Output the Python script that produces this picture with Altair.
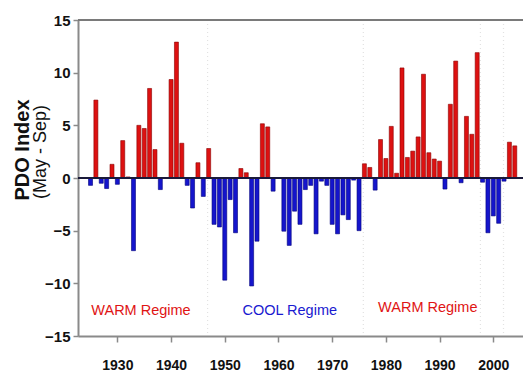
import altair as alt
import pandas as pd

years = list(range(1925, 2005))
pdo = [
    -0.7, 7.4, -0.5, -1.0, 1.3, -0.6, 3.55, 0.1, -6.9, 5.0,      # 1925-1934
    4.7, 8.5, 2.7, -1.1, 0.0, 9.35, 12.9, 3.3, -0.7, -2.85,      # 1935-1944
    1.45, -1.75, 2.8, -4.4, -4.65, -9.7, -2.05, -5.2, 0.9, 0.5,  # 1945-1954
    -10.25, -6.0, 5.15, 4.85, -1.25, 0.0, -5.05, -6.4, -3.15, -4.4,  # 1955-1964
    -1.1, -0.7, -5.3, -0.3, -0.7, -4.4, -5.3, -3.5, -3.95, -0.2,  # 1965-1974
    -5.0, 1.35, 1.0, -1.15, 3.65, 1.85, 4.9, 0.45, 10.45, 1.95,  # 1975-1984
    2.55, 3.9, 9.85, 2.4, 1.8, 1.6, -1.05, 7.0, 11.1, -0.45,     # 1985-1994
    5.85, 4.15, 11.9, -0.4, -5.2, -3.6, -4.3, -0.3, 3.4, 3.05,   # 1995-2004
]

regime_labels = ["WARM Regime", "COOL Regime", "WARM Regime "]
regime_year = [1934.4, 1962.1, 1987.8]
regime_value = [-12.6, -12.6, -12.3]
regime_colors = ["#e01414", "#1a1ad0", "#e01414"]

shift_years = [1946.8, 1975.8, 1997.6, 2001.9]

x_ticks = [1930, 1940, 1950, 1960, 1970, 1980, 1990, 2000]
y_ticks = [-15, -10, -5, 0, 5, 10, 15]

FONT = "Liberation Sans"
W, H = 445, 316

df = pd.DataFrame({"year": years, "pdo": pdo})
reg = pd.DataFrame({"label": regime_labels, "year": regime_year, "pdo": regime_value})
shifts = pd.DataFrame({"year": shift_years})

xscale = alt.Scale(domain=[1923.6, 2004.6], nice=False, zero=False)
yscale = alt.Scale(domain=[-15, 15], nice=False)

xaxis = alt.Axis(values=x_ticks, format="d", title=None, grid=False,
                 domainColor="#8a8a8a", domainWidth=2, tickColor="#8a8a8a",
                 tickSize=6, tickWidth=1.5, labelFont=FONT, labelFontSize=14,
                 labelFontWeight="bold", labelColor="#111", labelPadding=16)
yaxis = alt.Axis(values=y_ticks, title=None, grid=False,
                 domainColor="#8a8a8a", domainWidth=2, tickColor="#8a8a8a",
                 tickSize=5, tickWidth=1.5, labelFont=FONT, labelFontSize=15,
                 labelFontWeight="bold", labelColor="#111", labelPadding=3)

shift_rules = alt.Chart(shifts).mark_rule(color="#e2e2e2", strokeDash=[1, 3], strokeWidth=1.2).encode(
    x=alt.X("year:Q", scale=xscale, axis=xaxis),
)

top_line = alt.Chart(df).mark_rule(color="#7a7a7a", strokeWidth=2).encode(
    y=alt.datum(15)
)

bars = alt.Chart(df).mark_bar(size=4, strokeWidth=0.6).encode(
    x=alt.X("year:Q", scale=xscale, axis=xaxis),
    y=alt.Y("pdo:Q", scale=yscale, axis=yaxis),
    y2=alt.datum(0),
    color=alt.condition("datum.pdo > 0", alt.value("#dd1111"), alt.value("#1515cc")),
    stroke=alt.condition("datum.pdo > 0", alt.value("#8a0000"), alt.value("#00007a")),
)

zero = alt.Chart(df).mark_rule(color="#1a1a3a", strokeWidth=1.2).encode(
    y=alt.datum(0)
)

texts = alt.Chart(reg).mark_text(font=FONT, fontSize=14.5, fontWeight="normal").encode(
    x=alt.X("year:Q", scale=xscale),
    y=alt.Y("pdo:Q", scale=yscale),
    text="label:N",
    color=alt.Color("label:N", scale=alt.Scale(domain=regime_labels, range=regime_colors), legend=None),
)

title1 = alt.Chart(pd.DataFrame({"t": ["PDO Index"]})).mark_text(
    angle=270, font=FONT, fontSize=20, fontWeight="bold", color="#111"
).encode(x=alt.value(-55), y=alt.value(130), text="t:N")
title2 = alt.Chart(pd.DataFrame({"t": ["(May - Sep)"]})).mark_text(
    angle=270, font=FONT, fontSize=18, fontWeight="normal", color="#111"
).encode(x=alt.value(-37), y=alt.value(132), text="t:N")

chart = alt.layer(shift_rules, top_line, bars, zero, texts, title1, title2).properties(
    width=W, height=H,
    autosize=alt.AutoSizeParams(type="none"),
    padding={"left": 70, "top": 12, "right": 0, "bottom": 43},
).configure_view(stroke=None).configure(background="white")

chart.save("out.html", embed_options={"renderer": "svg", "actions": False})
